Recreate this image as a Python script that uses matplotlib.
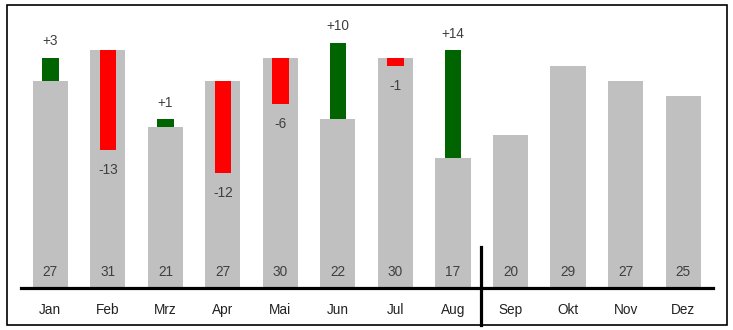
import matplotlib.pyplot as plt
from matplotlib.patches import Rectangle

months = ["Jan", "Feb", "Mrz", "Apr", "Mai", "Jun", "Jul", "Aug", "Sep", "Okt", "Nov", "Dez"]
plan = [27, 31, 21, 27, 30, 22, 30, 17, 20, 29, 27, 25]
delta = [3, -13, 1, -12, -6, 10, -1, 14]

plt.rcParams['font.family'] = ['Liberation Sans', 'DejaVu Sans']

fig = plt.figure(figsize=(7.33, 3.30), dpi=100)
W, H = 733, 330
# axes placed in pixel terms: baseline at y=288, plot spans x 21..713
ax = fig.add_axes([21 / W, (H - 288) / H, (713 - 21) / W, (288 - 10) / H])

x = list(range(len(months)))
ax.bar(x, plan, width=0.61, color="#C0C0C0", zorder=1)

cols = ["#006400" if d > 0 else "#FF0000" for d in delta]
ax.bar(x[:len(delta)], delta, bottom=plan[:len(delta)], width=0.29, color=cols, zorder=2)

for i, v in enumerate(plan):
    ax.annotate(str(v), (i, 0), xytext=(0, 11.5), textcoords="offset points",
                ha="center", va="center", fontsize=9.8, color="#404040")

for i, d in enumerate(delta):
    if d > 0:
        ax.annotate(f"+{d}", (i, plan[i] + d), xytext=(0, 12), textcoords="offset points",
                    ha="center", va="center", fontsize=9.8, color="#404040")
    else:
        ax.annotate(f"{d}", (i, plan[i] + d), xytext=(0, -14.5), textcoords="offset points",
                    ha="center", va="center", fontsize=9.8, color="#404040")

ax.set_xlim(-0.51, 11.52)
ax.set_ylim(0, 278 / 7.67)
ax.set_yticks([])
ax.set_xticks(x)
ax.set_xticklabels(months, fontsize=9.8, color="#222222")
ax.tick_params(axis="x", length=0, pad=11)
for s in ["top", "right", "left"]:
    ax.spines[s].set_visible(False)
ax.spines["bottom"].set_linewidth(2.3)
ax.spines["bottom"].set_color("black")
ax.patch.set_alpha(0)

# separator between actuals and forecast
ax.axvline(7.49, ymin=-37 / 278, ymax=41 / 278, color="black", linewidth=2.3, clip_on=False)

# outer frame
fig.patches.append(Rectangle((7 / W, 5 / H), 720 / W, 320 / H, transform=fig.transFigure,
                             fill=False, edgecolor="black", linewidth=1.2))

fig.savefig("out.png", dpi=100)
